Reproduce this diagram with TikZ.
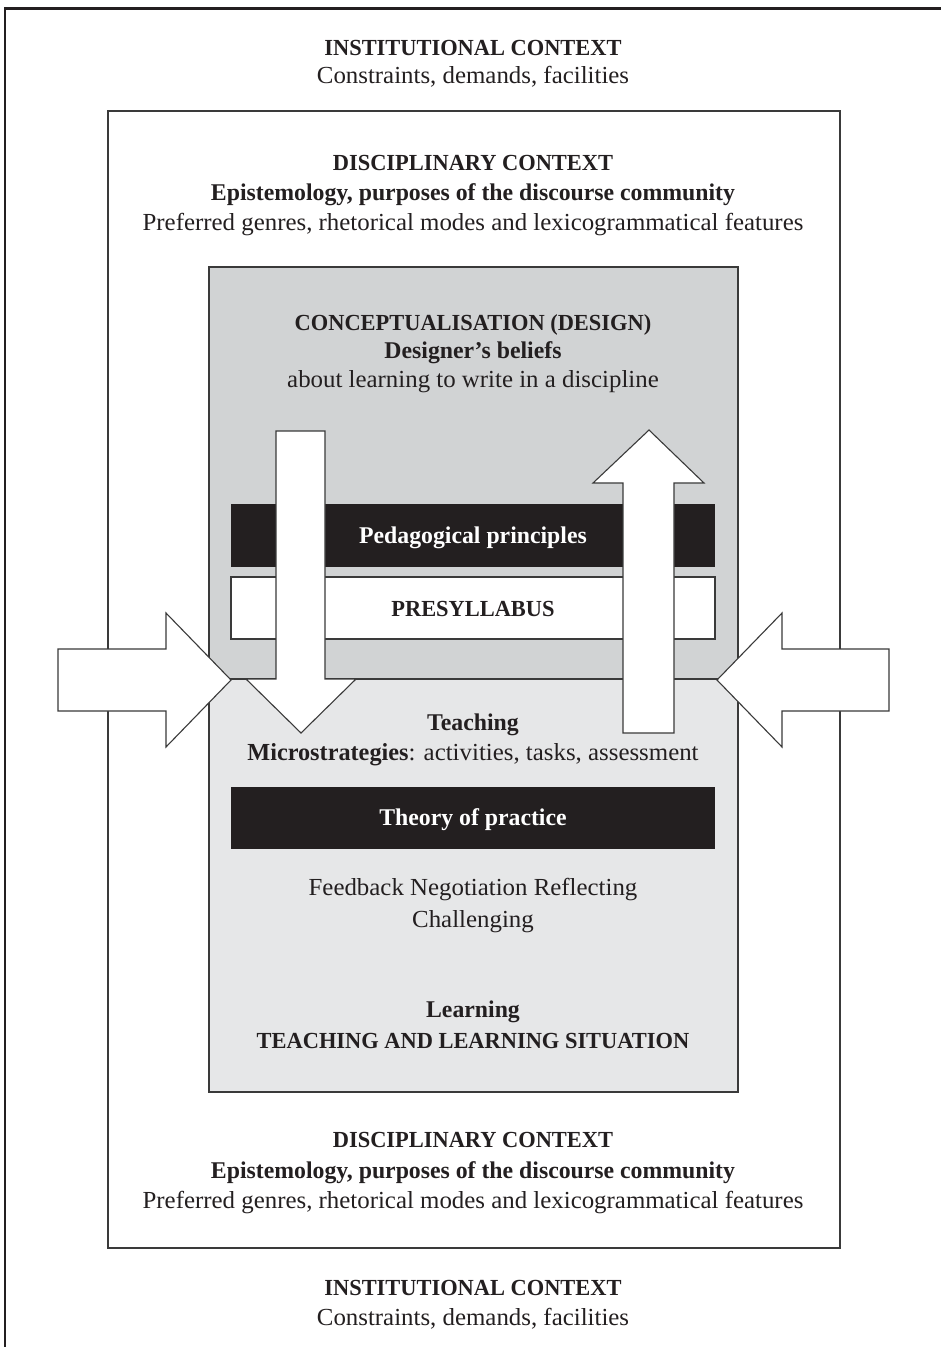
\documentclass[tikz,border=0pt]{standalone}
\usepackage{fontspec}
\setmainfont{Liberation Serif}[FakeStretch=0.975]
\newfontfamily\regf{Liberation Serif}[FakeStretch=1.015]
\newfontfamily\bldf{Liberation Serif}[FakeStretch=0.99]
\definecolor{inkc}{HTML}{231F20}
\definecolor{linec}{HTML}{3A3A3A}
\definecolor{darkg}{HTML}{D1D3D4}
\definecolor{lightg}{HTML}{E6E7E8}
\begin{document}
\begin{tikzpicture}[x=1pt,y=-1pt,
  thinline/.style={draw=linec, line width=1.1pt},
  boxshape/.style={thinline, rectangle, inner sep=0pt, outer sep=0pt, anchor=north west},
  barshape/.style={rectangle, inner sep=0pt, outer sep=0pt, anchor=north west, fill=inkc},
  txt/.style={anchor=base, inner sep=0pt, text=inkc, font=\fontsize{24.5}{28}\selectfont\regf},
  btxt/.style={txt, font=\fontsize{24}{28}\selectfont\bldf\bfseries},
  ctxt/.style={txt, font=\fontsize{23}{27}\selectfont\rmfamily\bfseries},
  wtxt/.style={btxt, text=white},
  bigarrow/.style={thinline, fill=white, line join=miter}]
\useasboundingbox (0,0) rectangle (940,1347);
\fill[white] (0,0) rectangle (940,1347);

% outer (institutional) frame, open at right and bottom
\coordinate (fb) at (5,1350);
\coordinate (fc) at (5,8.5);
\coordinate (fr) at (945,8.5);
\draw[draw=inkc, line width=2.8pt, line join=miter] (fb) -- (fc) -- (fr);

% disciplinary box
\node[boxshape, fill=white, minimum width=732pt, minimum height=1137pt] (disc) at (108,111) {};

% conceptualisation / teaching box
\node[boxshape, fill=darkg, minimum width=529pt, minimum height=412pt] (concept) at (209,267) {};
\node[boxshape, fill=lightg, minimum width=529pt, minimum height=413pt] (teach) at (209,679) {};

% bars
\node[barshape, minimum width=484pt, minimum height=63pt] (pedbar) at (231,504) {};
\node[boxshape, fill=white, minimum width=484pt, minimum height=62pt] (presyl) at (231,577) {};
\node[barshape, minimum width=484pt, minimum height=62pt] (theorybar) at (231,787) {};

% vertical arrows
\draw[bigarrow] (276,431) -- (325,431) -- (325,679) -- (356,679) -- (301,733) -- (246,679) -- (276,679) -- cycle;
\draw[bigarrow] (623,733) -- (674,733) -- (674,483) -- (704,483) -- (649,430) -- (593,483) -- (623,483) -- cycle;

% horizontal arrows
\draw[bigarrow] (58,649) -- (166,649) -- (166,613) -- (231,680) -- (166,747) -- (166,711) -- (58,711) -- cycle;
\draw[bigarrow] (889,649) -- (782,649) -- (782,613) -- (717,680) -- (782,747) -- (782,711) -- (889,711) -- cycle;

% texts
\node[ctxt] (inst1) at (473,55) {INSTITUTIONAL CONTEXT};
\node[txt] (inst2) at (473,83) {Constraints, demands, facilities};

\node[ctxt] (disc1) at (473,170) {DISCIPLINARY CONTEXT};
\node[btxt] (disc2) at (473,200) {Epistemology, purposes of the discourse community};
\node[txt] (disc3) at (473,230) {Preferred genres, rhetorical modes and lexicogrammatical features};

\node[ctxt] (con1) at (473,330) {CONCEPTUALISATION (DESIGN)};
\node[btxt] (con2) at (473,358) {Designer’s beliefs};
\node[txt] (con3) at (473,387) {about learning to write in a discipline};

\node[wtxt] (ped) at (473,543) {Pedagogical principles};
\node[ctxt] (pre) at (473,616) {PRESYLLABUS};

\node[btxt] (tch1) at (473,730) {Teaching};
\node[txt] (tch2) at (473,760) {{\bldf\bfseries Microstrategies}: activities, tasks, assessment};

\node[wtxt] (theory) at (473,825) {Theory of practice};

\node[txt] (fb1) at (473,895) {Feedback Negotiation Reflecting};
\node[txt] (fb2) at (473,927) {Challenging};

\node[btxt] (lrn1) at (473,1017) {Learning};
\node[ctxt] (lrn2) at (473,1048) {TEACHING AND LEARNING SITUATION};

\node[ctxt] (bdisc1) at (473,1147) {DISCIPLINARY CONTEXT};
\node[btxt] (bdisc2) at (473,1178) {Epistemology, purposes of the discourse community};
\node[txt] (bdisc3) at (473,1208) {Preferred genres, rhetorical modes and lexicogrammatical features};

\node[ctxt] (binst1) at (473,1295) {INSTITUTIONAL CONTEXT};
\node[txt] (binst2) at (473,1325) {Constraints, demands, facilities};
\end{tikzpicture}
\end{document}
